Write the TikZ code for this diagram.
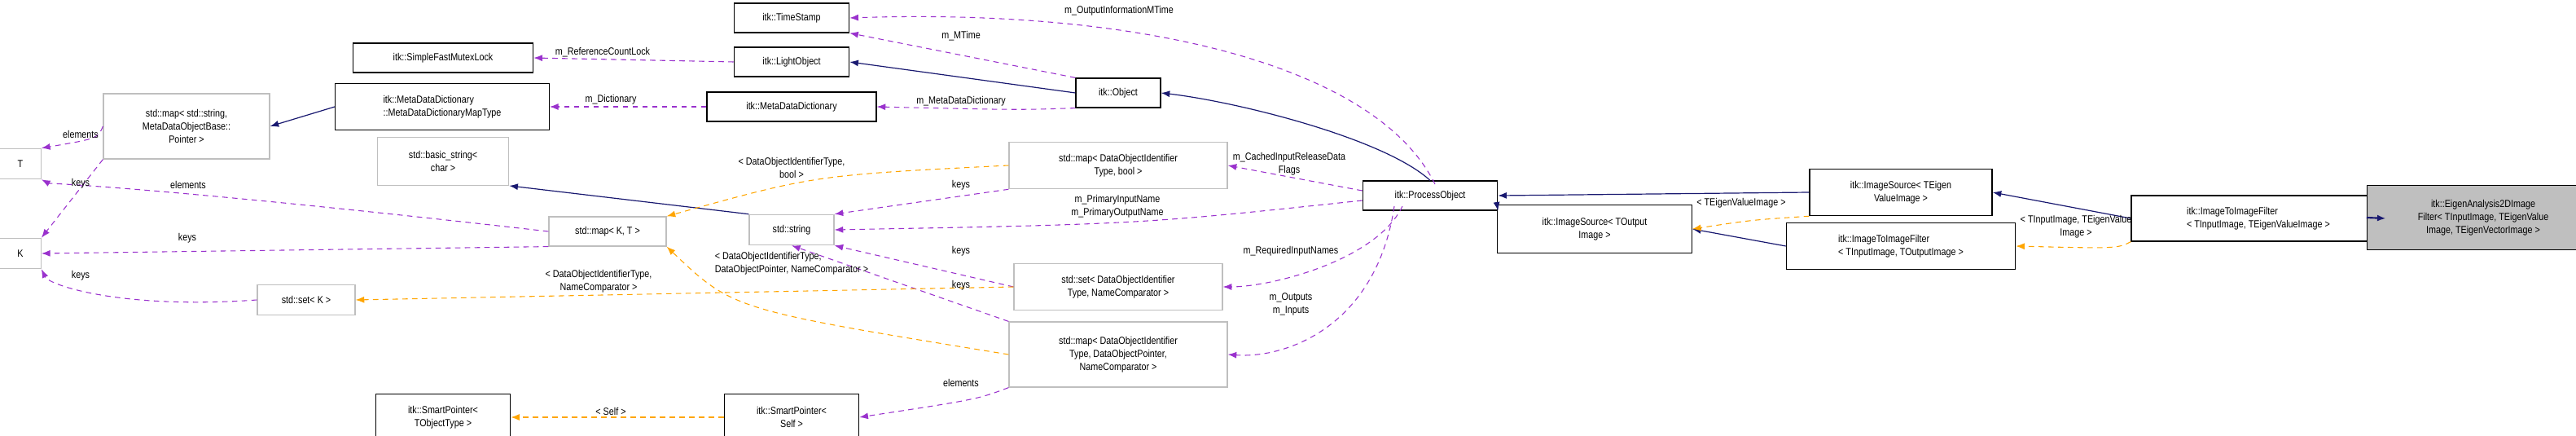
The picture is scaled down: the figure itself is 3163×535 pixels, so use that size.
\documentclass[tikz,border=0pt]{standalone}
\usepackage{fontspec}
\setmainfont{Liberation Sans}[FakeStretch=0.85]
\usetikzlibrary{arrows.meta}
\definecolor{navy}{HTML}{191970}
\definecolor{purp}{HTML}{9A32CD}
\definecolor{orng}{HTML}{FFA500}
\definecolor{gbord}{HTML}{BFBFBF}
\begin{document}
\begin{tikzpicture}[x=0.75pt,y=-0.75pt,
 box/.style={draw=black,line width=0.9pt,fill=white,inner sep=1pt,font=\fontsize{9.5}{12}\selectfont,align=center},
 gbox/.style={box,draw=gbord},
 inh/.style={draw=navy,line width=0.9pt,-{Latex[length=8pt,width=6pt]}},
 use/.style={draw=purp,line width=0.8pt,dash pattern=on 5pt off 4pt,-{Latex[length=8pt,width=6pt]}},
 tmpl/.style={draw=orng,line width=0.8pt,dash pattern=on 5pt off 4pt,-{Latex[length=8pt,width=6pt]}},
 lbl/.style={font=\fontsize{9.5}{12}\selectfont,align=center,inner sep=0pt}]
\useasboundingbox (0,0) rectangle (3163,535);
% nodes
\node[box,minimum width=166,minimum height=27] (sfml) at (544,71) {itk::SimpleFastMutexLock};
\node[box,minimum width=197,minimum height=43,align=left] (mdt) at (543,131) {itk::MetaDataDictionary\\::MetaDataDictionaryMapType};
\node[gbox,minimum width=153,minimum height=60] (mapstr) at (229,155) {std::map< std::string,\\MetaDataObjectBase::\\Pointer >};
\node[gbox,minimum width=38,minimum height=28] (T) at (25,201) {T};
\node[gbox,minimum width=38,minimum height=28] (K) at (25,311) {K};
\node[gbox,minimum width=121,minimum height=44] (basic) at (544,198) {std::basic\_string<\\ char >};
\node[gbox,minimum width=108,minimum height=27] (mapKT) at (746,284) {std::map< K, T >};
\node[gbox,minimum width=90,minimum height=28] (setK) at (376,368) {std::set< K >};
\node[box,minimum width=124,minimum height=43] (spt) at (544,512) {itk::SmartPointer<\\ TObjectType >};
\node[box,minimum width=106,minimum height=27] (ts) at (972,22) {itk::TimeStamp};
\node[box,minimum width=106,minimum height=27] (lo) at (972,76) {itk::LightObject};
\node[box,minimum width=156,minimum height=27] (mdd) at (972,131) {itk::MetaDataDictionary};
\node[box,minimum width=78,minimum height=27] (obj) at (1373,114) {itk::Object};
\node[gbox,minimum width=201,minimum height=43] (mapdb) at (1373,203) {std::map< DataObjectIdentifier\\Type, bool >};
\node[gbox,minimum width=78,minimum height=28] (str) at (972,282) {std::string};
\node[gbox,minimum width=192,minimum height=43] (setdn) at (1373,352) {std::set< DataObjectIdentifier\\Type, NameComparator >};
\node[gbox,minimum width=201,minimum height=60] (mapddn) at (1373,435) {std::map< DataObjectIdentifier\\Type, DataObjectPointer,\\ NameComparator >};
\node[box,minimum width=124,minimum height=43] (sps) at (972,512) {itk::SmartPointer<\\ Self >};
\node[box,minimum width=124,minimum height=27] (po) at (1756,240) {itk::ProcessObject};
\node[box,minimum width=168,minimum height=43] (ise) at (2334,236) {itk::ImageSource< TEigen\\ValueImage >};
\node[box,minimum width=179,minimum height=44] (iso) at (1958,281) {itk::ImageSource< TOutput\\Image >};
\node[box,minimum width=211,minimum height=43,align=left] (ito) at (2334,302) {itk::ImageToImageFilter\\< TInputImage, TOutputImage >};
\node[box,minimum width=234,minimum height=42,align=left] (ite) at (2773,268) {itk::ImageToImageFilter\\< TInputImage, TEigenValueImage >};
\node[box,fill=gbord,minimum width=214,minimum height=59] (eig) at (3049,267) {itk::EigenAnalysis2DImage\\Filter< TInputImage, TEigenValue\\Image, TEigenVectorImage >};
% inheritance
\draw[inh] (mdt.west) -- (mapstr.east);
\draw[inh] (str.north west) -- (basic.south east);
\draw[inh] (obj.west) -- (lo.east);
\draw[inh] (po.north) .. controls (1700,170) and (1520,125) .. (obj.east);
\draw[inh] (ise.west) -- (po.east);
\draw[inh] (iso.north west) -- (po.south east);
\draw[inh] (ito.west) -- (iso.east);
\draw[inh] (ite.west) -- (ise.east);
\draw[inh,line width=1.6pt] (eig.west) -- (ite.east);
% usage
\coordinate (pot) at (1762,226);
\coordinate (pob) at (1712,253);
\coordinate (pob2) at (1722,253);
\draw[use] (lo.west) -- (sfml.east);
\draw[use] (mdd.west) -- (mdt.east);
\draw[use] (obj.north west) -- (ts.south east);
\draw[use] (obj.south west) .. controls (1250,135) .. (mdd.east);
\draw[use] (pot) .. controls (1690,80) and (1400,10) .. (ts.east);
\draw[use] (po.west) ++(0,-6) coordinate (pw1) (pw1) -- (mapdb.east);
\draw[use] (po.west) ++(0,6) coordinate (pw2) (pw2) .. controls (1400,275) .. (str.east);
\draw[use] (pob2) .. controls (1690,320) and (1560,352) .. (setdn.east);
\draw[use] (pob) .. controls (1690,400) and (1580,440) .. (mapddn.east);
\draw[use] (mapstr.west) .. controls (120,170) .. (T.north east);
\draw[use] (mapstr.south west) -- (K.north east);
\draw[use] (mapKT.west) .. controls (200,230) and (60,225) .. (T.south east);
\draw[use] (mapKT.south west) -- (K.east);
\draw[use] (setK.west) .. controls (150,380) and (60,350) .. (K.south east);
\draw[use] (mapdb.south west) -- (str.north east);
\draw[use] (setdn.west) -- (str.south east);
\draw[use] (mapddn.north west) -- (str.south);
\draw[use] (mapddn.south west) .. controls (1200,490) .. (sps.east);
% template
\draw[tmpl] (mapdb.west) .. controls (1000,215) .. (mapKT.north east);
\draw[tmpl] (mapddn.west) .. controls (900,380) .. (mapKT.south east);
\draw[tmpl] (setdn.west) -- (setK.east);
\draw[tmpl] (sps.west) -- (spt.east);
\draw[tmpl] (ise.south west) .. controls (2150,270) .. (iso.east);
\draw[tmpl] (ite.south west) .. controls (2600,305) .. (ito.east);
% labels
\node[lbl] (l1) at (740,64) {m\_ReferenceCountLock};
\node[lbl] (l2) at (750,122) {m\_Dictionary};
\node[lbl] (l3) at (1374,13) {m\_OutputInformationMTime};
\node[lbl] (l4) at (1180,44) {m\_MTime};
\node[lbl] (l5) at (1180,124) {m\_MetaDataDictionary};
\node[lbl] (l6) at (972,206) {< DataObjectIdentifierType,\\bool >};
\node[lbl] (l7) at (1180,227) {keys};
\node[lbl] (l8) at (1372,253) {m\_PrimaryInputName\\m\_PrimaryOutputName};
\node[lbl] (l9) at (1583,201) {m\_CachedInputReleaseData\\Flags};
\node[lbl,align=left] (l10) at (972,323) {< DataObjectIdentifierType,\\DataObjectPointer, NameComparator >};
\node[lbl] (l11) at (1180,308) {keys};
\node[lbl] (l12) at (1180,350) {keys};
\node[lbl] (l13) at (1585,308) {m\_RequiredInputNames};
\node[lbl] (l14) at (1585,373) {m\_Outputs\\m\_Inputs};
\node[lbl] (l15) at (1180,470) {elements};
\node[lbl] (l16) at (99,165) {elements};
\node[lbl] (l17) at (99,225) {keys};
\node[lbl] (l18) at (231,227) {elements};
\node[lbl] (l19) at (230,292) {keys};
\node[lbl] (l20) at (99,338) {keys};
\node[lbl] (l21) at (735,345) {< DataObjectIdentifierType,\\NameComparator >};
\node[lbl] (l22) at (750,505) {< Self >};
\node[lbl] (l23) at (2138,249) {< TEigenValueImage >};
\node[lbl] (l24) at (2549,278) {< TInputImage, TEigenValue\\Image >};
\end{tikzpicture}
\end{document}
